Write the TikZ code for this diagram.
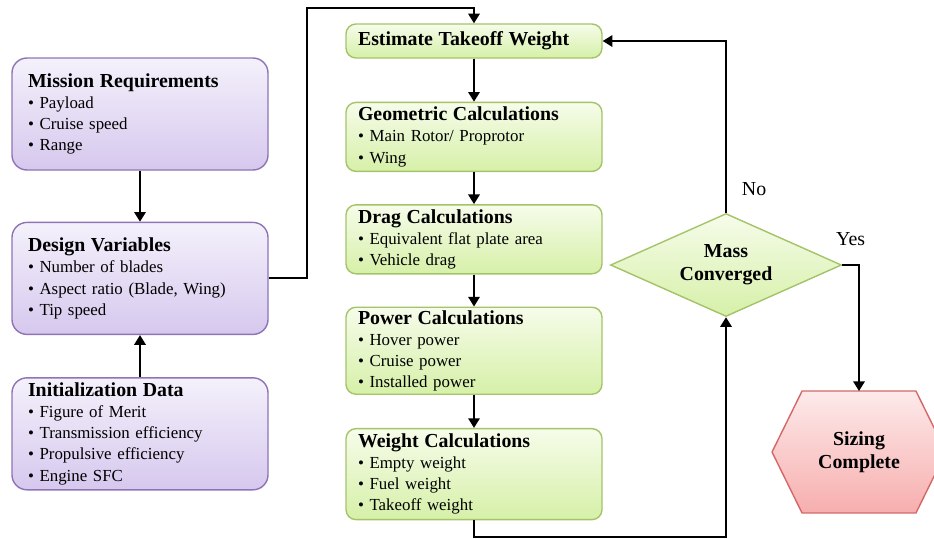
\documentclass[tikz,border=0pt]{standalone}
\usepackage{fontspec}
\setmainfont{Liberation Serif}
\usetikzlibrary{arrows.meta,positioning,calc,shapes.geometric,backgrounds}

\definecolor{lilacline}{RGB}{142,116,182}
\definecolor{lilactop}{RGB}{244,241,251}
\definecolor{lilacbot}{RGB}{214,200,238}
\definecolor{leafline}{RGB}{165,196,105}
\definecolor{leaftop}{RGB}{246,252,234}
\definecolor{leafbot}{RGB}{214,240,168}
\definecolor{roseline}{RGB}{212,104,104}
\definecolor{rosetop}{RGB}{253,234,234}
\definecolor{rosebot}{RGB}{247,174,174}

\newcommand{\hd}[1]{{\fontsize{11.3}{12}\selectfont\bfseries #1}}

\begin{document}
\begin{tikzpicture}[
  ->,>={Triangle[width=6.5pt,length=5.5pt]},line width=1.1pt,
  every node/.style={align=left},
  req/.style={rectangle,draw=lilacline,line width=0.8pt,rounded corners=0.3cm,top color=lilactop,bottom color=lilacbot,minimum width=5.12cm,minimum height=2.24cm,inner xsep=0.32cm,inner ysep=0pt,text width=4.48cm,font=\fontsize{9.6}{12}\selectfont},
  calc/.style={rectangle,draw=leafline,line width=0.8pt,rounded corners=0.2cm,top color=leaftop,bottom color=leafbot,minimum width=5.12cm,inner xsep=0.24cm,inner ysep=0pt,text width=4.64cm,font=\fontsize{9.6}{12}\selectfont},
  decide/.style={diamond,aspect=2.24,draw=leafline,line width=0.8pt,top color=leaftop,bottom color=leafbot,minimum width=4.62cm,minimum height=2.06cm,inner sep=0pt,align=center,font=\fontsize{11.3}{13}\selectfont\bfseries},
  done/.style={rectangle,minimum width=2.24cm,minimum height=2.4cm,inner sep=0pt,align=center,font=\fontsize{11.3}{13}\selectfont\bfseries},
  lbl/.style={inner sep=0pt,font=\fontsize{11.3}{13}\selectfont}
]
\useasboundingbox (0,0) rectangle (18.68,-10.76);

% inputs
\node[req] (mission) at (2.80,-2.28) {\hd{Mission Requirements}\\\textbullet\ Payload\\\textbullet\ Cruise speed\\\textbullet\ Range};
\node[req,below=1.02cm of mission] (design) {\hd{Design Variables}\\\textbullet\ Number of blades\\\textbullet\ Aspect ratio (Blade, Wing)\\\textbullet\ Tip speed};
\node[req,below=0.84cm of design] (init) {\hd{Initialization Data}\\\textbullet\ Figure of Merit\\\textbullet\ Transmission efficiency\\\textbullet\ Propulsive efficiency\\\textbullet\ Engine SFC};

% sizing loop
\node[calc,minimum height=0.68cm] (est) at (9.48,-0.82) {\hd{Estimate Takeoff Weight}};
\node[calc,minimum height=1.38cm,below=0.86cm of est] (geo) {\hd{Geometric Calculations}\\\textbullet\ Main Rotor/ Proprotor\\\textbullet\ Wing};
\node[calc,minimum height=1.38cm,below=0.64cm of geo] (drag) {\hd{Drag Calculations}\\\textbullet\ Equivalent flat plate area\\\textbullet\ Vehicle drag};
\node[calc,minimum height=1.74cm,below=0.64cm of drag] (power) {\hd{Power Calculations}\\\textbullet\ Hover power\\\textbullet\ Cruise power\\\textbullet\ Installed power};
\node[calc,minimum height=1.82cm,below=0.66cm of power] (weight) {\hd{Weight Calculations}\\\textbullet\ Empty weight\\\textbullet\ Fuel weight\\\textbullet\ Takeoff weight};

\node[decide] (conv) at (14.52,-5.30) {Mass\\Converged};
\node[done] (sizing) at (17.18,-9.04) {Sizing\\Complete};
\begin{scope}[on background layer]
\draw[-,draw=roseline,line width=0.8pt,top color=rosetop,bottom color=rosebot] (sizing.north west) -- (sizing.north east) -- ($(sizing.east)+(0.6,0)$) -- (sizing.south east) -- (sizing.south west) -- ($(sizing.west)+(-0.6,0)$) -- cycle;
\end{scope}

\draw (mission) -- (design);
\draw (init) -- (design);
\draw (design.east) -- ++(0.76,0) |- ([yshift=0.30cm]est.north) -- (est.north);
\draw (est) -- (geo);
\draw (geo) -- (drag);
\draw (drag) -- (power);
\draw (power) -- (weight);
\draw (weight.south) -- ++(0,-0.34) -| (conv.south);
\draw (conv.north) |- node[lbl,pos=0.07,right=0.3cm]{No} (est.east);
\draw (conv.east) -| node[lbl,pos=0.25,above=0.36cm]{Yes} (sizing.north);
\end{tikzpicture}
\end{document}
